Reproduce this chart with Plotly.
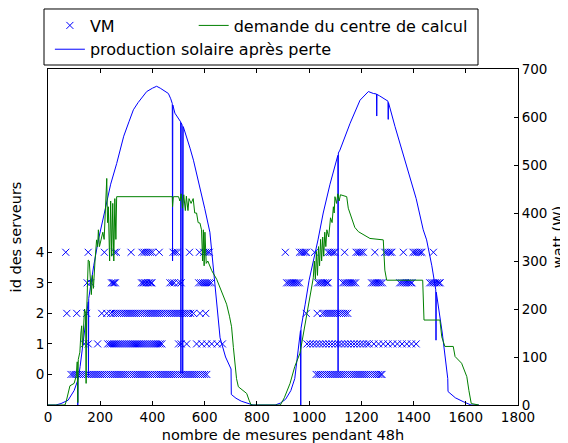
import plotly.graph_objects as go

# --- donnees ---
# VM : position (numero de mesure) des croix pour chaque id de serveur
vm_x0 = [88, 96, 104, 112, 120, 128, 136, 144, 152, 160, 168, 176, 184, 192, 200, 208, 216, 224,
         232, 240, 248, 256, 264, 272, 280, 288, 296, 304, 312, 320, 328, 336, 344, 352, 360, 368,
         376, 384, 392, 400, 408, 416, 424, 432, 440, 448, 456, 464, 472, 480, 488, 496, 504, 512,
         520, 528, 536, 544, 552, 560, 568, 576, 584, 592, 600, 608,
         1027, 1035, 1043, 1051, 1059, 1067, 1075, 1083, 1091, 1099, 1107, 1115, 1123, 1131, 1139,
         1147, 1155, 1163, 1171, 1179, 1187, 1195, 1203, 1211, 1219, 1227, 1235, 1243, 1251, 1259,
         1267, 1275, 1279]
vm_x1 = [139, 154, 190, 229, 237, 245, 253, 261, 269, 277, 285, 293, 301, 309, 317, 325, 333, 341,
         349, 357, 365, 373, 381, 389, 397, 405, 413, 421, 429, 436, 500, 510, 531, 569, 589, 608,
         627, 648, 668,
         992, 1004, 1016, 1028, 1040, 1052, 1064, 1076, 1088, 1100, 1112, 1124, 1136, 1148, 1160,
         1172, 1184, 1196, 1208, 1220, 1230, 1248, 1266, 1284, 1302, 1320, 1338, 1356, 1374, 1392,
         1410]
vm_x2 = [72, 110, 148, 206, 225, 240, 250, 258, 266, 274, 282, 290, 298, 306, 314, 322, 330, 338,
         346, 354, 362, 370, 378, 386, 394, 402, 410, 418, 426, 434, 442, 450, 458, 466, 474, 482,
         490, 498, 506, 514, 522, 530, 538, 546, 557, 582, 604,
         989, 1031, 1052, 1060, 1068, 1076, 1084, 1092, 1100, 1108, 1116, 1124, 1132, 1140, 1148]
vm_x3 = [150, 163, 243, 248, 253, 258, 358, 364, 370, 376, 382, 388, 394, 398, 467, 475, 483, 500,
         510, 577, 585, 593, 601, 609, 617, 625,
         914, 921, 928, 935, 942, 949, 956, 963, 1033, 1040, 1047, 1054, 1061, 1068, 1073, 1129,
         1136, 1143, 1150, 1157, 1164, 1171, 1178, 1239, 1246, 1253, 1260, 1267, 1274, 1281, 1347,
         1354, 1361, 1368, 1375, 1382, 1389, 1394, 1462, 1469, 1476, 1483, 1490, 1497, 1502]
vm_x4 = [68, 154, 216, 255, 262, 318, 360, 368, 376, 384, 392, 400, 426, 479, 487, 495, 542, 580,
         596, 604, 612, 618,
         909, 963, 970, 977, 984, 990, 1021, 1072, 1079, 1086, 1093, 1099, 1136, 1180, 1187, 1194,
         1201, 1208, 1252, 1290, 1297, 1304, 1311, 1317, 1361, 1398, 1405, 1412, 1419, 1426, 1432,
         1476]

# production solaire apres perte (W)
sol_x = [0, 30, 50, 77, 100, 113, 114, 115, 123, 140, 154, 155, 156, 175, 193, 220, 240, 263, 290,
         310, 327, 345, 378, 400, 416, 430, 445, 461, 470, 476, 477, 478, 486, 500, 508,
         509, 510, 514, 516, 518, 531, 544, 557, 582, 600, 620, 640, 659, 680, 701, 702, 720, 740,
         767, 785, 870, 890, 910, 930, 945, 960, 967, 968, 969, 985, 1000, 1034, 1054, 1080, 1110,
         1111, 1112, 1118, 1157, 1195, 1227, 1246, 1258, 1259, 1260, 1270, 1284, 1302, 1303, 1304,
         1329, 1350, 1374, 1410, 1437, 1450, 1470, 1485, 1486, 1487, 1510, 1525, 1531, 1532, 1560,
         1590, 1604, 1620, 1650]
sol_w = [0, 0, 3, 10, 30, 50, 0, 52, 80, 150, 215, 60, 222, 290, 344, 410, 460, 503, 560,
         590, 615, 630, 653, 660, 664, 660, 655, 649, 638, 628, 300, 625, 608, 597, 590,
         66, 588, 583, 66, 580, 559, 535, 510, 455, 410, 360, 250, 140, 100, 75, 22, 14, 8,
         3, 0, 0, 4, 12, 30, 55, 120, 155, 0, 160, 210, 260, 344, 400, 460, 520,
         70, 525, 531, 587, 635, 653, 649, 648, 602, 647, 644, 639, 633, 595, 630,
         580, 540, 496, 430, 365, 344, 290, 240, 135, 235, 150, 85, 55, 28, 15,
         7, 3, 0, 0]

# demande du centre de calcul (W)
dem_x = [0, 65, 70, 84, 100, 108, 112, 114, 116, 122, 126, 129, 132, 136, 140, 144, 146, 148, 152,
         154, 158, 162, 166, 170, 174, 180, 186, 190, 193, 197, 202, 210, 215, 220, 225, 228, 231,
         236, 240, 244, 248, 252, 256, 260, 263, 476, 477, 480, 500, 505, 510, 515, 520, 526, 530,
         536, 540, 548, 556, 562, 569, 575, 582, 588, 592, 595, 598, 601, 606, 612, 620, 627, 646,
         665, 684, 695, 703, 710, 716, 722, 729, 745, 761, 770, 778, 890, 905, 927, 945, 965, 985,
         1003, 1010, 1016, 1020, 1024, 1028, 1032, 1036, 1040, 1044, 1048, 1052, 1056, 1060, 1064,
         1068, 1075, 1082, 1088, 1093, 1096, 1099, 1105, 1110, 1115, 1120, 1144, 1150, 1157, 1165,
         1175, 1189, 1210, 1233, 1284, 1290, 1297, 1435, 1440, 1501, 1508, 1520, 1552, 1559, 1584,
         1595, 1604, 1612, 1621, 1650]
dem_w = [0, 0, 8, 40, 45, 60, 90, 5, 95, 110, 150, 165, 120, 180, 200, 190, 45, 190, 260,
         302, 300, 250, 230, 270, 243, 300, 344, 330, 365, 330, 340, 360, 345, 400, 472, 380, 413,
         300, 425, 310, 420, 300, 430, 345, 434, 434, 413, 434, 434, 425, 440, 410, 438, 405, 435,
         405, 430, 420, 430, 400, 400, 380, 379, 365, 300, 365, 290, 360, 295, 300, 290, 280, 262,
         235, 210, 185, 163, 120, 87, 55, 38, 30, 24, 10, 0, 0, 15, 45, 80, 108, 170,
         226, 240, 265, 300, 262, 320, 270, 330, 290, 345, 300, 350, 310, 360, 330,
         365, 350, 390, 380, 413, 400, 434, 420, 440, 425, 438, 434, 410, 400, 385,
         370, 361, 355, 347, 344, 281, 260, 260, 177, 177, 142, 122, 122, 101, 87,
         70, 59, 30, 3, 0]

x_ticks = [0, 200, 400, 600, 800, 1000, 1200, 1400, 1600, 1800]
id_ticks = [0, 1, 2, 3, 4]
watt_ticks = [0, 100, 200, 300, 400, 500, 600, 700]

vm_x = vm_x0 + vm_x1 + vm_x2 + vm_x3 + vm_x4
vm_y = ([0] * len(vm_x0) + [1] * len(vm_x1) + [2] * len(vm_x2)
        + [3] * len(vm_x3) + [4] * len(vm_x4))

FONT = "DejaVu Sans"

fig = go.Figure()
fig.add_trace(go.Scatter(
    x=vm_x, y=vm_y, mode="markers", name="VM", legend="legend",
    marker=dict(symbol="x-thin", size=7, color="#0000ff", line=dict(color="#0000ff", width=1))
))
fig.add_trace(go.Scatter(
    x=sol_x, y=sol_w, mode="lines", name="production solaire après perte",
    yaxis="y2", legend="legend", line=dict(color="#0000ff", width=1)
))
fig.add_trace(go.Scatter(
    x=dem_x, y=dem_w, mode="lines", name="demande du centre de calcul",
    yaxis="y2", legend="legend2", line=dict(color="#008000", width=1)
))

axis_common = dict(
    showgrid=False, zeroline=False, showline=True, linecolor="black", linewidth=1,
    ticks="inside", ticklen=4, tickcolor="black", tickwidth=1,
    tickfont=dict(size=13.5, family=FONT, color="black"),
)

# la page ajoute une marge de 8 px autour de la figure : on la compense ici
fig.update_layout(
    width=560, height=435,
    margin=dict(l=40, r=50, t=61, b=38, autoexpand=False),
    paper_bgcolor="white", plot_bgcolor="white",
    font=dict(family=FONT, color="black"),
    xaxis=dict(range=[0, 1800], tickvals=x_ticks, mirror="ticks", automargin=False,
               title=dict(text="nombre de mesures pendant 48h", font=dict(size=14.5)),
               **axis_common),
    yaxis=dict(range=[-1, 10], tickvals=id_ticks, automargin=False,
               title=dict(text="id des serveurs", font=dict(size=14.5)),
               **axis_common),
    yaxis2=dict(range=[0, 700], tickvals=watt_ticks, overlaying="y", side="right",
                automargin=True,
                title=dict(text="watt (W)", font=dict(size=14.5), standoff=6),
                **axis_common),
    legend=dict(x=0.004, y=1.18, xanchor="left", yanchor="top", bgcolor="rgba(0,0,0,0)",
                borderwidth=0, font=dict(size=16, family=FONT), tracegroupgap=0),
    legend2=dict(x=0.31, y=1.18, xanchor="left", yanchor="top", bgcolor="rgba(0,0,0,0)",
                 borderwidth=0, font=dict(size=16, family=FONT)),
    shapes=[dict(type="rect", xref="paper", yref="paper", x0=-0.0085, x1=0.9149,
                 y0=1.0119, y1=1.1786, line=dict(color="black", width=1),
                 fillcolor="rgba(0,0,0,0)", layer="below")],
)

fig.write_html("out.html")
